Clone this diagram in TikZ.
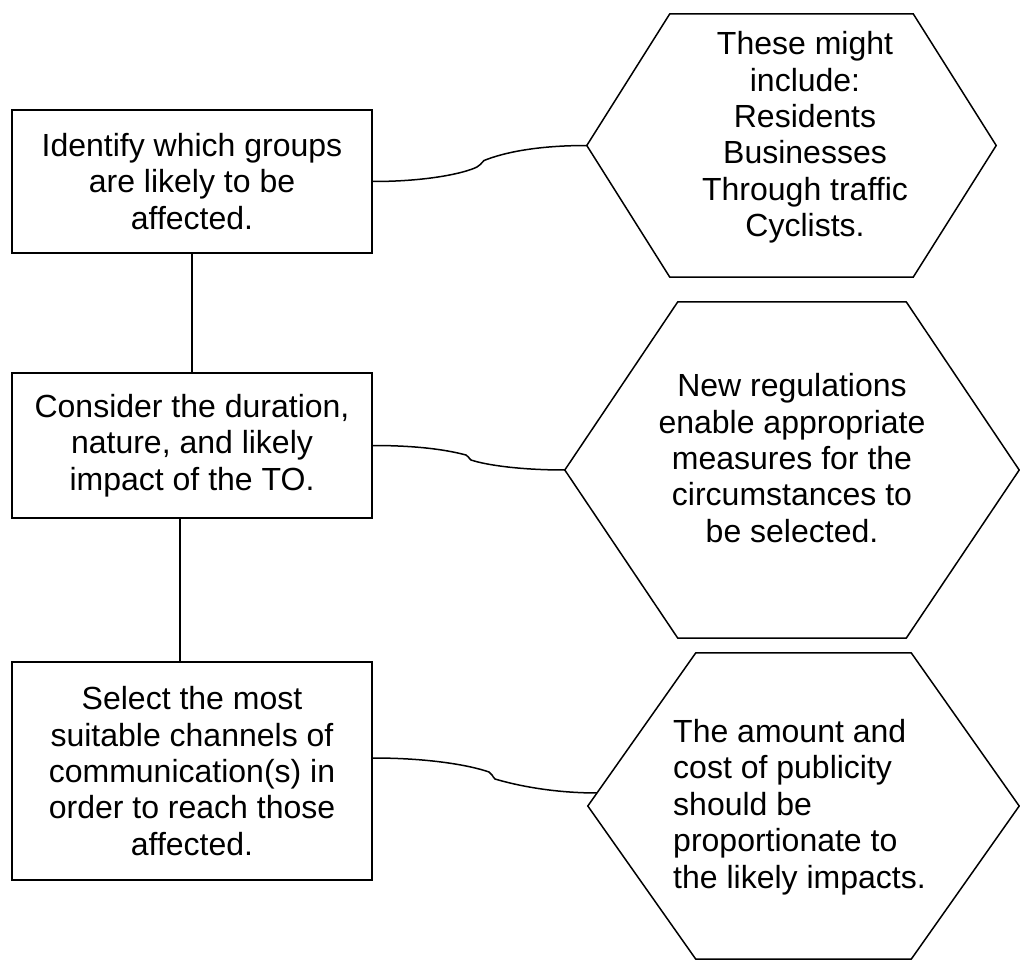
\documentclass[tikz,border=0pt]{standalone}
\usepackage{fontspec}
\setmainfont{Liberation Sans}
\usetikzlibrary{positioning, calc}

\begin{document}
\begin{tikzpicture}[
  x=1pt, y=-1pt,
  font=\fontsize{32}{36.4}\selectfont,
  box/.style={draw, line width=2pt, minimum width=360pt, align=center, inner sep=0pt},
  hexa/.style={inner sep=0pt},
  hexline/.style={line width=1.5pt, line join=miter},
  txt/.style={align=center, inner sep=0pt},
  link/.style={line width=1.5pt},
  wire/.style={line width=2pt},
]
  \useasboundingbox (0,0) rectangle (1020,960);
  % steps (left column)
  \node[box, minimum height=143pt] (b1) at (192,181.5) {Identify which groups\\are likely to be\\affected.};
  \node[box, minimum height=145pt, below=118pt of b1] (b2) {Consider the duration,\\nature, and likely\\impact of the TO.};
  \node[box, minimum height=218pt, below=142pt of b2] (b3) {Select the most\\suitable channels of\\communication(s) in\\order to reach those\\affected.};
  % notes (right column)
  \node[hexa, minimum width=409pt, minimum height=263pt] (hexA) at (791.5,145.5) {};
  \node[hexa, minimum width=454pt, minimum height=336pt] (hexB) at (792,470) {};
  \node[hexa, minimum width=431pt, minimum height=306pt] (hexC) at (803.5,806) {};
  \foreach \h/\d in {hexA/83, hexB/113, hexC/108}
    \draw[hexline] (\h.west) -- ([xshift=\d pt]\h.north west) -- ([xshift=-\d pt]\h.north east)
      -- (\h.east) -- ([xshift=-\d pt]\h.south east) -- ([xshift=\d pt]\h.south west) -- cycle;
  \node[txt] (tA) at (805,137.5) {These might\\include:\\Residents\\Businesses\\Through traffic\\Cyclists.};
  \node[txt] (tB) at (792,458) {New regulations\\enable appropriate\\measures for the\\circumstances to\\be selected.};
  \node[txt, align=left] (tC) at (799.5,807) {The amount and\\cost of publicity\\should be\\proportionate to\\the likely impacts.};
  % step chain
  \draw[wire] (b1) -- (b2);
  \draw[wire] ([xshift=-12pt]b2.south) -- ([xshift=-12pt]b2.south |- b3.north);
  % links to notes
  \coordinate (c3beg) at ([yshift=13pt]b3.east);
  \coordinate (c3end) at ($(hexC.west)!0.085!([xshift=108pt]hexC.north west)$);
  \draw[link] (b1.east) .. controls +(55,0) and +(-12,6) .. (477,167)
    .. controls +(3,-1.5) and +(-3,3) .. (484,160.5)
    .. controls +(20,-8) and +(-50,0) .. (hexA.west);
  \draw[link] (b2.east) .. controls +(50,0) and +(-15,-4) .. (466,455)
    .. controls +(3,1.5) and +(-3,-2.5) .. (471,460)
    .. controls +(15,5) and +(-45,0) .. (hexB.west);
  \draw[link] (c3beg) .. controls +(55,0) and +(-20,-7) .. (489,772)
    .. controls +(3,1.5) and +(-3,-3) .. (495,779)
    .. controls +(20,6) and +(-45,0) .. (c3end);
\end{tikzpicture}
\end{document}
